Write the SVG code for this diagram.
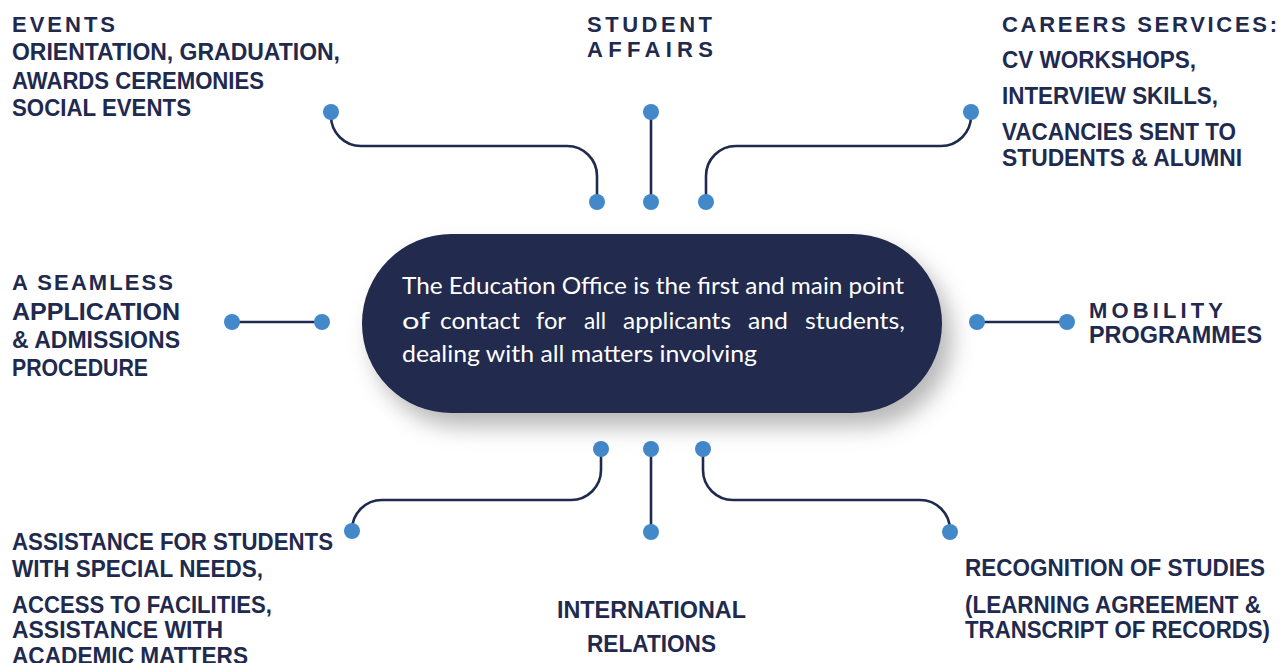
<svg xmlns="http://www.w3.org/2000/svg" width="1284" height="663" viewBox="0 0 1284 663">
<style>
.lbl{font-family:"Liberation Sans",Arial,sans-serif;font-weight:700;font-size:23px;fill:#1F2A4F}
.hdr{font-family:"Liberation Sans",Arial,sans-serif;font-weight:700;font-size:22px;fill:#1F2A4F;letter-spacing:3px}
.ctr{font-family:Lato,"Open Sans",sans-serif;font-size:23px;fill:#FFFFFF}
.con{fill:none;stroke:#1F2A4F;stroke-width:2.6}
.dot{fill:#4388C9}
</style>
<defs>
<filter id="sh" x="-20%" y="-30%" width="140%" height="170%">
<feDropShadow dx="10" dy="14" stdDeviation="11" flood-color="#000" flood-opacity="0.28"/>
</filter>
</defs>
<rect width="1284" height="663" fill="#FFFFFF"/>
<g id="connectors">
<path class="con" d="M331,112 V116 A30,30 0 0 0 361,146 H567 A30,30 0 0 1 597,176 V202"/>
<path class="con" d="M651,112 V202"/>
<path class="con" d="M971,112 V116 A30,30 0 0 1 941,146 H736 A30,30 0 0 0 706,176 V202"/>
<path class="con" d="M232,322 H322"/>
<path class="con" d="M977,322 H1067"/>
<path class="con" d="M601,449 V470 A30,30 0 0 1 571,500 H382 A30,30 0 0 0 352,530"/>
<path class="con" d="M651,449 V532"/>
<path class="con" d="M703,449 V470 A30,30 0 0 0 733,500 H920 A30,30 0 0 1 950,530"/>
<g class="dots">
<circle class="dot" cx="331" cy="112" r="8"/>
<circle class="dot" cx="651" cy="112" r="8"/>
<circle class="dot" cx="971" cy="112" r="8"/>
<circle class="dot" cx="597" cy="202" r="8"/>
<circle class="dot" cx="651" cy="202" r="8"/>
<circle class="dot" cx="706" cy="202" r="8"/>
<circle class="dot" cx="232" cy="322" r="8"/>
<circle class="dot" cx="322" cy="322" r="8"/>
<circle class="dot" cx="977" cy="322" r="8"/>
<circle class="dot" cx="1067" cy="322" r="8"/>
<circle class="dot" cx="601" cy="449" r="8"/>
<circle class="dot" cx="651" cy="449" r="8"/>
<circle class="dot" cx="703" cy="449" r="8"/>
<circle class="dot" cx="651" cy="532" r="8"/>
<circle class="dot" cx="352" cy="531" r="8"/>
<circle class="dot" cx="950" cy="532" r="8"/>
</g>
</g>
<g id="center">
<rect x="362" y="234" width="580" height="179" rx="89.5" fill="#212A4E" filter="url(#sh)"/>
<text class="ctr" x="402" y="294" textLength="502" lengthAdjust="spacingAndGlyphs">The Education Office is the first and main point</text>
<text class="ctr" x="402" y="329" textLength="28" lengthAdjust="spacingAndGlyphs">of</text>
<text class="ctr" x="440" y="329" textLength="80" lengthAdjust="spacingAndGlyphs">contact</text>
<text class="ctr" x="536" y="329" textLength="30" lengthAdjust="spacingAndGlyphs">for</text>
<text class="ctr" x="584" y="329" textLength="22" lengthAdjust="spacingAndGlyphs">all</text>
<text class="ctr" x="623" y="329" textLength="108" lengthAdjust="spacingAndGlyphs">applicants</text>
<text class="ctr" x="748" y="329" textLength="40" lengthAdjust="spacingAndGlyphs">and</text>
<text class="ctr" x="805" y="329" textLength="100" lengthAdjust="spacingAndGlyphs">students,</text>
<text class="ctr" x="402" y="362" textLength="355" lengthAdjust="spacingAndGlyphs">dealing with all matters involving</text>
</g>
<g id="events">
<text class="hdr" x="12" y="32" textLength="106">EVENTS</text>
<text class="lbl" x="12" y="60" textLength="328" lengthAdjust="spacingAndGlyphs">ORIENTATION, GRADUATION,</text>
<text class="lbl" x="12" y="89" textLength="252" lengthAdjust="spacingAndGlyphs">AWARDS CEREMONIES</text>
<text class="lbl" x="12" y="116" textLength="179" lengthAdjust="spacingAndGlyphs">SOCIAL EVENTS</text>
</g>
<g id="student-affairs">
<text class="hdr" x="587" y="32" textLength="128">STUDENT</text>
<text class="hdr" x="587" y="57" textLength="129">AFFAIRS</text>
</g>
<g id="careers">
<text class="hdr" x="1002" y="32" textLength="278">CAREERS SERVICES:</text>
<text class="lbl" x="1002" y="68" textLength="194" lengthAdjust="spacingAndGlyphs">CV WORKSHOPS,</text>
<text class="lbl" x="1002" y="104" textLength="216" lengthAdjust="spacingAndGlyphs">INTERVIEW SKILLS,</text>
<text class="lbl" x="1002" y="140" textLength="234" lengthAdjust="spacingAndGlyphs">VACANCIES SENT TO</text>
<text class="lbl" x="1002" y="166" textLength="240" lengthAdjust="spacingAndGlyphs">STUDENTS &amp; ALUMNI</text>
</g>
<g id="admissions">
<text class="hdr" x="12" y="290" textLength="164">A SEAMLESS</text>
<text class="lbl" x="12" y="320" textLength="168" lengthAdjust="spacingAndGlyphs">APPLICATION</text>
<text class="lbl" x="12" y="348" textLength="168" lengthAdjust="spacingAndGlyphs">&amp; ADMISSIONS</text>
<text class="lbl" x="12" y="376" textLength="136" lengthAdjust="spacingAndGlyphs">PROCEDURE</text>
</g>
<g id="mobility">
<text class="hdr" x="1089" y="318" textLength="137">MOBILITY</text>
<text class="lbl" x="1089" y="343" textLength="173" lengthAdjust="spacingAndGlyphs">PROGRAMMES</text>
</g>
<g id="special-needs">
<text class="lbl" x="12" y="550" textLength="321" lengthAdjust="spacingAndGlyphs">ASSISTANCE FOR STUDENTS</text>
<text class="lbl" x="12" y="577" textLength="251" lengthAdjust="spacingAndGlyphs">WITH SPECIAL NEEDS,</text>
<text class="lbl" x="12" y="613" textLength="260" lengthAdjust="spacingAndGlyphs">ACCESS TO FACILITIES,</text>
<text class="lbl" x="12" y="638" textLength="211" lengthAdjust="spacingAndGlyphs">ASSISTANCE WITH</text>
<text class="lbl" x="12" y="664" textLength="236" lengthAdjust="spacingAndGlyphs">ACADEMIC MATTERS</text>
</g>
<g id="international">
<text class="lbl" x="557" y="618" textLength="189" lengthAdjust="spacingAndGlyphs">INTERNATIONAL</text>
<text class="lbl" x="587" y="652" textLength="129" lengthAdjust="spacingAndGlyphs">RELATIONS</text>
</g>
<g id="recognition">
<text class="lbl" x="965" y="576" textLength="300" lengthAdjust="spacingAndGlyphs">RECOGNITION OF STUDIES</text>
<text class="lbl" x="965" y="613" textLength="296" lengthAdjust="spacingAndGlyphs">(LEARNING AGREEMENT &amp;</text>
<text class="lbl" x="965" y="638" textLength="305" lengthAdjust="spacingAndGlyphs">TRANSCRIPT OF RECORDS)</text>
</g>
</svg>
